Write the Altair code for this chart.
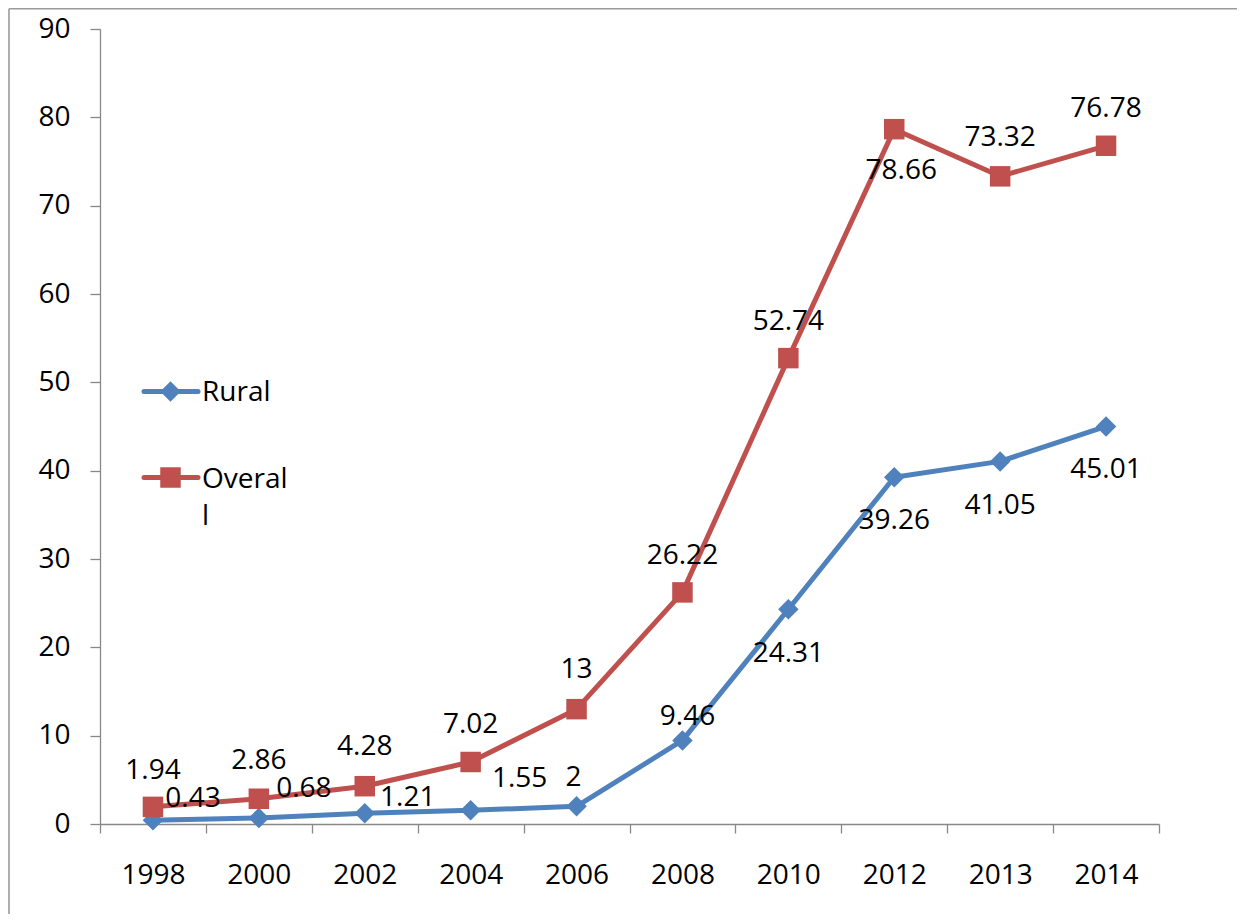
import altair as alt
import pandas as pd

# ---- data ----
years = ["1998", "2000", "2002", "2004", "2006", "2008", "2010", "2012", "2013", "2014"]
rural = [0.43, 0.68, 1.21, 1.55, 2, 9.46, 24.31, 39.26, 41.05, 45.01]
overall = [1.94, 2.86, 4.28, 7.02, 13, 26.22, 52.74, 78.66, 73.32, 76.78]
y_ticks = [0, 10, 20, 30, 40, 50, 60, 70, 80, 90]

series_names = ["Rural", "Overall"]
legend_labels = ["Rural", "Overal\nl"]
series_colors = ["#4F81BD", "#C0504D"]
series_shapes = ["diamond", "square"]

# pixel offsets (dx, dy) of each data label relative to its marker
rural_label_offsets = [(40, -21), (45, -29), (43, -15), (49, -31), (-3, -28),
                       (5, -23), (0, 45), (0, 44), (0, 45), (0, 44)]
overall_label_offsets = [(0, -36), (0, -38), (0, -39), (0, -37), (0, -39),
                         (0, -36), (0, -36), (7, 42), (0, -38), (0, -37)]

FONT = "Open Sans"
FS = 28
AXIS_GRAY = "#888888"

rows = []
for s, vals, offs in [("Rural", rural, rural_label_offsets),
                      ("Overall", overall, overall_label_offsets)]:
    for i, (yr, v) in enumerate(zip(years, vals)):
        rows.append({"year": yr, "series": s, "value": v, "label": f"{v:g}",
                     "dx": offs[i][0], "dy": offs[i][1], "order": i})
df = pd.DataFrame(rows)

x_enc = alt.X("year:O", sort=years, bandPosition=0.5,
              scale=alt.Scale(type="band", paddingInner=0, paddingOuter=0),
              axis=alt.Axis(title=None, tickBand="extent", labelAngle=0,
                            domainColor=AXIS_GRAY, tickColor=AXIS_GRAY,
                            domainWidth=1.3, tickWidth=1.3, tickSize=9,
                            labelFont=FONT, labelFontSize=FS, labelColor="black",
                            labelPadding=28, grid=False))
y_enc = alt.Y("value:Q", scale=alt.Scale(domain=[0, 90], nice=False),
              axis=alt.Axis(title=None, values=y_ticks, grid=False,
                            domainColor=AXIS_GRAY, tickColor=AXIS_GRAY,
                            domainWidth=1.3, tickWidth=1.3, tickSize=10,
                            labelFont=FONT, labelFontSize=FS, labelColor="black",
                            labelPadding=20))
color_enc = alt.Color("series:N", scale=alt.Scale(domain=series_names, range=series_colors),
                      legend=None)

base = alt.Chart(df).encode(x=x_enc, y=y_enc)

lines = base.mark_line(strokeWidth=5, strokeJoin="round", strokeCap="round").encode(
    color=color_enc, order="order:Q")
points = base.mark_point(filled=True, size=420, opacity=1).encode(
    color=color_enc,
    shape=alt.Shape("series:N", scale=alt.Scale(domain=series_names, range=series_shapes),
                    legend=None))

label_layers = []
for (dx, dy), _ in df.groupby(["dx", "dy"]):
    label_layers.append(
        base.transform_filter((alt.datum.dx == dx) & (alt.datum.dy == dy))
        .mark_text(dx=dx, dy=dy, font=FONT, fontSize=FS, color="black",
                   align="center", baseline="middle")
        .encode(text="label:N"))

one = pd.DataFrame({"a": [0]})

# outer frame (top and left edges visible in the picture)
frame_top = alt.Chart(one).mark_rule(color="#9a9a9a", strokeWidth=1.6).encode(
    x=alt.value(-91), x2=alt.value(1200), y=alt.value(-20.2))
frame_left = alt.Chart(one).mark_rule(color="#9a9a9a", strokeWidth=1.6).encode(
    x=alt.value(-91), y=alt.value(-20.2), y2=alt.value(900))

# legend inside the plot
legend_layers = []
legend_rows_y = [362.5, 448.5]
legend_text_y = [371.5, 459]
for i in range(2):
    legend_layers.append(alt.Chart(one).mark_rule(color=series_colors[i], strokeWidth=5,
                                                  strokeCap="round").encode(
        x=alt.value(44), x2=alt.value(98), y=alt.value(legend_rows_y[i])))
    legend_layers.append(alt.Chart(one).mark_point(filled=True, size=420, opacity=1,
                                                   shape=series_shapes[i],
                                                   color=series_colors[i]).encode(
        x=alt.value(70.5), y=alt.value(legend_rows_y[i])))
    legend_layers.append(alt.Chart(one).mark_text(text=legend_labels[i], lineBreak="\n",
                                                  lineHeight=37, font=FONT, fontSize=FS,
                                                  color="black", align="left",
                                                  baseline="alphabetic").encode(
        x=alt.value(102), y=alt.value(legend_text_y[i])))

chart = alt.layer(frame_top, frame_left, lines, points, *label_layers, *legend_layers).properties(
    width=1059, height=795,
    autosize=alt.AutoSizeParams(type="none"),
    padding={"left": 92, "top": 21, "right": 78, "bottom": 90},
    background="white",
).configure_view(stroke=None)

chart.save("out.html", embed_options={"renderer": "svg", "actions": False})
